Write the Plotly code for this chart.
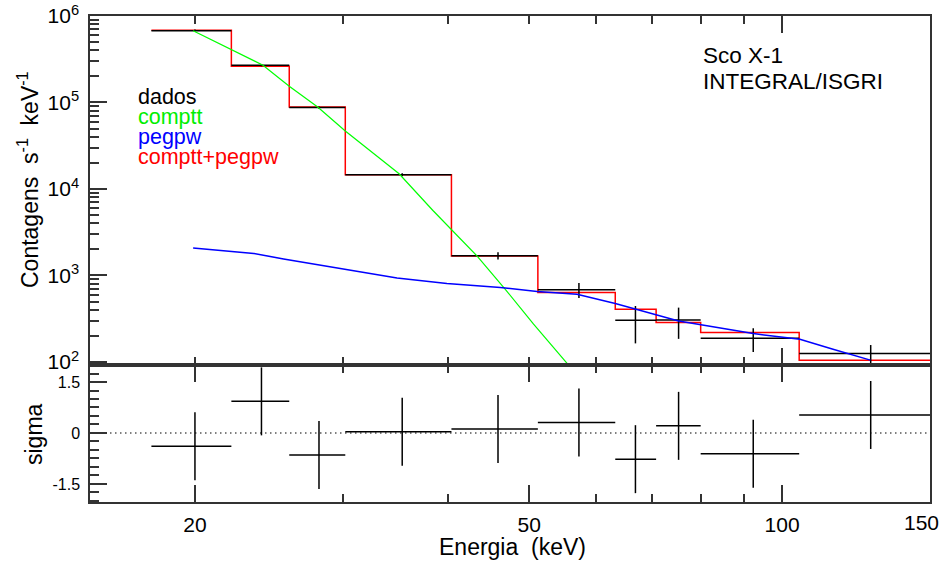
import math
import plotly.graph_objects as go

# ---- Energy bins (keV) ----
bin_lo = [17.75, 22.1, 25.9, 30.2, 40.4, 51.2, 63.3, 70.8, 80.0, 104.8]
bin_hi = [22.1, 25.9, 30.2, 40.4, 51.2, 63.3, 70.8, 80.0, 104.8, 150.0]
bin_ctr = [20.0, 24.0, 28.1, 35.3, 45.9, 57.3, 66.9, 75.3, 92.4, 127.5]

# ---- Observed spectrum (counts s^-1 keV^-1) and 1-sigma errors ----
dados = [6.76e5, 2.70e5, 8.73e4, 1.46e4, 1694, 684, 304, 305, 188, 125]
dados_err = [2.0e4, 8.0e3, 2.5e3, 600, 160, 135, 140, 120, 58, 32]

# ---- Folded total model per bin (comptt + pegpw) ----
modelo_total = [6.84e5, 2.63e5, 8.89e4, 1.46e4, 1675, 636, 408, 286, 219, 105]

# ---- Model components ----
comptt_e = [19.9, 22.07, 24.1, 25.9, 28.0, 30.2, 32.3, 35.0, 38.4, 40.4,
            43.3, 46.8, 50.6, 55.6, 57.0]
comptt_val = [6.76e5, 4.11e5, 2.70e5, 1.54e5, 8.87e4, 4.68e4, 2.79e4,
              1.50e4, 5640, 3390, 1694, 697, 274, 94, 70]

pegpw_e = [19.9, 21.4, 23.5, 25.5, 28.2, 30.0, 34.8, 39.9, 46.2, 51.1,
           57.0, 63.3, 66.9, 75.3, 92.4, 105.0, 115.0, 127.4]
pegpw_val = [2080, 1940, 1800, 1550, 1320, 1190, 934, 809, 727, 653,
             608, 474, 408, 298, 213, 183, 140, 105]

# ---- Residuals in units of sigma ----
residuos = [-0.39, 0.93, -0.65, 0.04, 0.12, 0.31, -0.77, 0.21, -0.61, 0.53]

# ---- Tick definitions ----
y_major = [1e2, 1e3, 1e4, 1e5, 1e6]
y_major_txt = ["10<sup>2</sup>", "10<sup>3</sup>", "10<sup>4</sup>",
               "10<sup>5</sup>", "10<sup>6</sup>"]
y_minor = [m * 10 ** d for d in range(2, 6) for m in range(2, 10)]
x_major_bottom = [20, 50, 100, 150]
x_major_bottom_txt = ["20", "50", "100", ""]   # "150" sits at the frame edge
x_edge_label = "150"
x_minor_bottom = [30, 40, 60, 70, 80, 90]
x_major_top = [100]
x_minor_top = [20, 30, 40, 50, 60, 70, 80, 90]
sig_major = [-1.5, 0, 1.5]
sig_major_txt = ["-1.5", "0", "1.5"]

FONT = "Liberation Sans, Arial, sans-serif"
FRAME = "#333333"
E_MIN, E_MAX = 15.0, 150.0
XRANGE = [math.log10(E_MIN), math.log10(E_MAX) + 1e-5]

xerr_minus = [c - lo for c, lo in zip(bin_ctr, bin_lo)]
xerr_plus = [hi - c for c, hi in zip(bin_ctr, bin_hi)]

fig = go.Figure()

# total model as a step histogram
fig.add_trace(go.Scatter(
    x=bin_lo + [bin_hi[-1]], y=modelo_total + [modelo_total[-1]],
    mode="lines", line=dict(color="#ff0000", width=1.5, shape="hv"),
    xaxis="x", yaxis="y", showlegend=False))

# data crosses
fig.add_trace(go.Scatter(
    x=bin_ctr, y=dados, mode="markers",
    marker=dict(size=0.1, color="black"),
    error_x=dict(type="data", symmetric=False, array=xerr_plus,
                 arrayminus=xerr_minus, width=0, thickness=1.5, color="black"),
    error_y=dict(type="data", array=dados_err, width=0, thickness=1.5,
                 color="black"),
    xaxis="x", yaxis="y", showlegend=False))

# components
fig.add_trace(go.Scatter(
    x=comptt_e, y=comptt_val, mode="lines",
    line=dict(color="#00ff00", width=1.2),
    xaxis="x", yaxis="y", showlegend=False))
fig.add_trace(go.Scatter(
    x=pegpw_e, y=pegpw_val, mode="lines",
    line=dict(color="#0000ff", width=1.5),
    xaxis="x", yaxis="y", showlegend=False))

# residual panel: zero reference line
fig.add_trace(go.Scatter(
    x=[E_MIN, E_MAX], y=[0, 0], mode="lines",
    line=dict(color="black", width=1.2, dash="1.5px,3.5px"),
    xaxis="x2", yaxis="y2", showlegend=False))

fig.add_trace(go.Scatter(
    x=bin_ctr, y=residuos, mode="markers",
    marker=dict(size=0.1, color="black"),
    error_x=dict(type="data", symmetric=False, array=xerr_plus,
                 arrayminus=xerr_minus, width=0, thickness=1.5, color="black"),
    error_y=dict(type="data", array=[1.0] * len(residuos), width=0,
                 thickness=1.5, color="black"),
    xaxis="x2", yaxis="y2", showlegend=False))

axis_common = dict(showline=True, linecolor=FRAME, linewidth=1.5,
                   ticks="inside", tickcolor=FRAME, tickwidth=1.5,
                   showgrid=False, zeroline=False, automargin=False)

W, H = 941, 561
ML, MR, MT, MB = 90, 11, 16, 59
PW, PH = W - ML - MR, H - MT - MB


def px(xp):
    return (xp - ML) / PW


def py(yp):
    return (H - MB - yp) / PH


fig.update_layout(
    width=W, height=H,
    margin=dict(l=ML, r=MR, t=MT, b=MB, pad=0, autoexpand=False),
    paper_bgcolor="white", plot_bgcolor="white",
    font=dict(family=FONT, color="black"),
    xaxis=dict(axis_common, type="log", domain=[0, 1], anchor="y",
               range=XRANGE, tickmode="array",
               tickvals=x_major_top, ticklen=17, showticklabels=False,
               mirror="allticks",
               minor=dict(tickmode="array", tickvals=x_minor_top, ticklen=8,
                          tickcolor=FRAME, tickwidth=1.5, ticks="inside")),
    yaxis=dict(axis_common, type="log", domain=[py(365), 1], anchor="x",
               range=[1.965, 6.0], tickmode="array", tickvals=y_major,
               ticktext=y_major_txt, ticklen=17, mirror=True,
               tickfont=dict(size=21, family=FONT),
               ticklabelstandoff=5,
               minor=dict(tickmode="array", tickvals=y_minor, ticklen=9,
                          tickcolor=FRAME, tickwidth=1.5, ticks="inside")),
    xaxis2=dict(axis_common, type="log", domain=[0, 1], anchor="y2",
                matches="x", range=XRANGE, tickmode="array",
                tickvals=x_major_bottom, ticktext=x_major_bottom_txt,
                ticklen=17, mirror="allticks",
                tickfont=dict(size=21, family=FONT), ticklabelstandoff=3,
                minor=dict(tickmode="array", tickvals=x_minor_bottom,
                           ticklen=8, tickcolor=FRAME, tickwidth=1.5,
                           ticks="inside")),
    yaxis2=dict(axis_common, domain=[0, py(365)], anchor="x2",
                range=[-2.03, 2.0], tickmode="array", tickvals=sig_major,
                ticktext=sig_major_txt, ticklen=17, mirror=True,
                tickfont=dict(size=16, family=FONT), ticklabelstandoff=5,
                minor=dict(tick0=0, dtick=0.25, ticklen=9, tickcolor=FRAME,
                           tickwidth=1.5, ticks="inside")),
)

ann = []
# axis titles
ann.append(dict(text="Contagens&nbsp; s<sup>-1</sup>&nbsp; keV<sup>-1</sup>",
                x=px(28), y=py(180), textangle=-90, font=dict(size=23)))
ann.append(dict(text="sigma", x=px(34), y=py(434), textangle=-90,
                font=dict(size=23)))
ann.append(dict(text="Energia&nbsp; (keV)", x=px(512), y=py(547),
                font=dict(size=23)))
# label of the last energy tick, kept inside the page edge
ann.append(dict(text=x_edge_label, x=px(921), y=py(522),
                font=dict(size=21)))
# legend lines
legend_items = [("dados", "black"), ("comptt", "#00ee00"),
                ("pegpw", "#0000ff"), ("comptt+pegpw", "#ff0000")]
for i, (txt, col) in enumerate(legend_items):
    ann.append(dict(text=txt, x=px(136), y=py(97 + 20 * i), xanchor="left",
                    font=dict(size=21.5, color=col)))
# source / instrument label
ann.append(dict(text="Sco X-1", x=px(701), y=py(56), xanchor="left",
                font=dict(size=22.5)))
ann.append(dict(text="INTEGRAL/ISGRI", x=px(701), y=py(81), xanchor="left",
                font=dict(size=22.5)))

for a in ann:
    a.setdefault("xanchor", "center")
    a.update(xref="paper", yref="paper", yanchor="middle", showarrow=False)
    a["font"] = dict(family=FONT, color=a["font"].get("color", "black"),
                     size=a["font"]["size"])
fig.update_layout(annotations=ann)

fig.write_html("out.html")
